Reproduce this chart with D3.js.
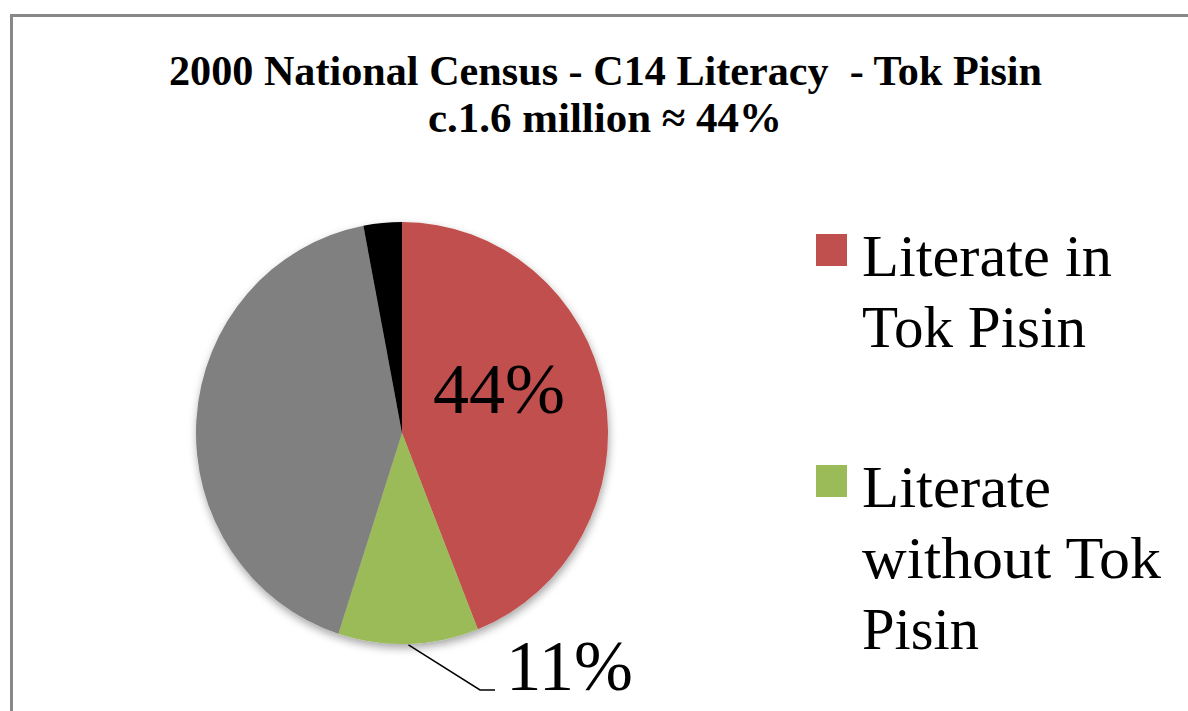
<!DOCTYPE html>
<html>
<head>
<meta charset="utf-8">
<script src="https://cdn.jsdelivr.net/npm/d3@7"></script>
<style>
  html, body { margin: 0; padding: 0; background: #fff; }
  svg { display: block; }
  text { white-space: pre; }
</style>
</head>
<body>
<svg id="chart" width="1188" height="711"></svg>
<script>
// ---- data ----
const categories = ["Literate in Tok Pisin", "Literate without Tok Pisin", "Not literate", "Not stated"];
const values = [44, 11, 42, 3];
const colors = ["#C0504D", "#9BBB59", "#808080", "#000000"];
const legendLines = [["Literate in", "Tok Pisin"], ["Literate", "without Tok", "Pisin"]];
const legendWidths = [[250, 224], [189, 299, 117]];
const titleLines = ["2000 National Census - C14 Literacy  - Tok Pisin", "c.1.6 million \u2248 44%"];
const dataLabels = ["44%", "11%"];

const svg = d3.select("#chart");

// border (frame extends beyond the visible area on right/bottom)
svg.append("rect")
  .attr("x", 11.5).attr("y", 15.5)
  .attr("width", 1300).attr("height", 800)
  .attr("fill", "none").attr("stroke", "#888").attr("stroke-width", 3);

// title
const titleFont = "'Liberation Serif', 'Times New Roman', serif";
const titleG = svg.append("g");
titleG.append("text")
  .attr("x", 605.5).attr("y", 85)
  .attr("text-anchor", "middle")
  .attr("font-family", titleFont).attr("font-weight", "bold").attr("font-size", 42)
  .attr("textLength", 873).attr("lengthAdjust", "spacingAndGlyphs")
  .text(titleLines[0]);
titleG.append("text")
  .attr("x", 605).attr("y", 132)
  .attr("text-anchor", "middle")
  .attr("font-family", titleFont).attr("font-weight", "bold").attr("font-size", 42)
  .attr("textLength", 354).attr("lengthAdjust", "spacingAndGlyphs")
  .text(titleLines[1]);

// shadow filter
const defs = svg.append("defs");
const f = defs.append("filter").attr("id", "shadow")
  .attr("x", "-10%").attr("y", "-10%").attr("width", "120%").attr("height", "125%");
f.append("feDropShadow").attr("dx", 1).attr("dy", 4).attr("stdDeviation", 4)
  .attr("flood-color", "#000").attr("flood-opacity", 0.35);

// pie
const cx = 402, cy = 433, r = 206, sy = 211 / 206;
const pie = d3.pie().sort(null).value(d => d)(values);
const arc = d3.arc().innerRadius(0).outerRadius(r);

const pieG = svg.append("g")
  .attr("transform", `translate(${cx},${cy}) scale(1,${sy})`)
  .attr("filter", "url(#shadow)");
pieG.selectAll("path").data(pie).enter().append("path")
  .attr("d", arc)
  .attr("fill", (d, i) => colors[i]);

const labelFont = "'Liberation Serif', 'Times New Roman', serif";

// 44% label inside red slice
svg.append("text")
  .attr("x", 499).attr("y", 413)
  .attr("text-anchor", "middle")
  .attr("font-family", labelFont).attr("font-size", 71)
  .attr("textLength", 132).attr("lengthAdjust", "spacingAndGlyphs")
  .attr("fill", "#000")
  .text(dataLabels[0]);

// 11% label outside with leader line
const gArc = pie[1];
const midA = (gArc.startAngle + gArc.endAngle) / 2;
const lx0 = cx + Math.sin(midA) * r, ly0 = cy - Math.cos(midA) * r * sy;
svg.append("path")
  .attr("d", `M${lx0},${ly0 + 1} L480,690 L495,690`)
  .attr("fill", "none").attr("stroke", "#000").attr("stroke-width", 1.5);
svg.append("text")
  .attr("x", 569.5).attr("y", 690)
  .attr("text-anchor", "middle")
  .attr("font-family", labelFont).attr("font-size", 71)
  .attr("textLength", 127).attr("lengthAdjust", "spacingAndGlyphs")
  .attr("fill", "#000")
  .text(dataLabels[1]);

// legend
const legendY = [234, 465];
const lineH = 71;
legendLines.forEach((lines, i) => {
  const g = svg.append("g");
  g.append("rect")
    .attr("x", 816).attr("y", legendY[i])
    .attr("width", 31).attr("height", 32)
    .attr("fill", colors[i]);
  lines.forEach((ln, j) => {
    g.append("text")
      .attr("x", 862).attr("y", legendY[i] + 42 + j * lineH)
      .attr("font-family", labelFont).attr("font-size", 59)
      .attr("textLength", legendWidths[i][j]).attr("lengthAdjust", "spacingAndGlyphs")
      .attr("fill", "#000")
      .text(ln);
  });
});
</script>
</body>
</html>
